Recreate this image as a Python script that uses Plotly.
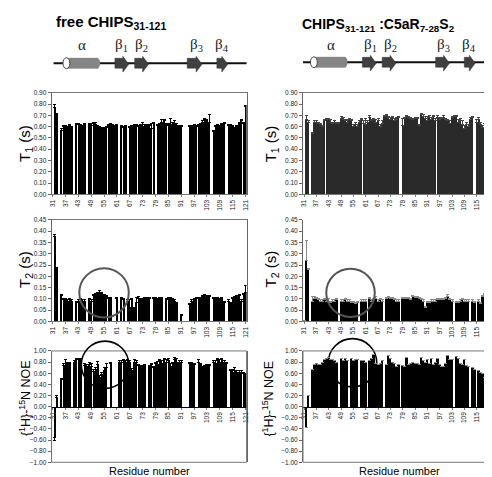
import plotly.graph_objects as go

W, H = 492, 477

residues = list(range(31, 122))
tick_residues = [31, 37, 43, 49, 55, 61, 67, 73, 79, 85, 91, 97, 103, 109, 115, 121]
tick_labels = [str(r) for r in tick_residues]

# ---------------- free CHIPS31-121 ----------------
free_T1 = [
    None, 0.77, 0.71, None, 0.57, 0.60, 0.60, 0.59, 0.61, 0.59,
    None, 0.62, 0.62, 0.61, 0.60, 0.62, None, 0.62, 0.61, 0.63,
    0.62, 0.60, 0.58, 0.58, 0.58, 0.59, 0.61, 0.62, 0.61, 0.60,
    0.61, None, 0.60, 0.59, 0.60, None, 0.59, 0.60, 0.61, 0.61,
    0.60, 0.61, 0.60, 0.60, 0.61, 0.61, 0.58, 0.63, None, 0.61,
    0.62, 0.64, 0.65, 0.62, 0.61, 0.62, 0.62, 0.63, 0.61, 0.60,
    0.60, None, None, None, 0.60, 0.60, 0.61, 0.60, 0.61, 0.62,
    0.64, 0.66, 0.65, 0.64, None, 0.56, 0.60, 0.61, 0.60, 0.62,
    0.63, None, 0.61, 0.61, 0.60, 0.58, 0.60, 0.63, 0.65, 0.63,
    0.78]
free_T1_err = [
    0, 0.03, 0.01, 0, 0.01, 0.01, 0.01, 0.01, 0.01, 0.01,
    0, 0.01, 0.01, 0.01, 0.01, 0.01, 0, 0.01, 0.02, 0.01,
    0.02, 0.01, 0.02, 0.01, 0.01, 0.01, 0.01, 0.01, 0.01, 0.01,
    0.01, 0, 0.01, 0.01, 0.01, 0, 0.01, 0.01, 0.01, 0.01,
    0.01, 0.01, 0.04, 0.02, 0.01, 0.01, 0.05, 0.01, 0, 0.01,
    0.01, 0.02, 0.01, 0.01, 0.02, 0.05, 0.02, 0.02, 0.02, 0.01,
    0.01, 0, 0, 0, 0.01, 0.01, 0.01, 0.01, 0.01, 0.01,
    0.01, 0.01, 0.01, 0.07, 0, 0.01, 0.01, 0.01, 0.01, 0.01,
    0.01, 0, 0.01, 0.01, 0.01, 0.01, 0.01, 0.01, 0.01, 0.01,
    0.01]

free_T2 = [
    None, 0.375, 0.235, None, 0.115, 0.095, 0.095, 0.09, 0.095, 0.09,
    None, 0.085, 0.09, 0.095, 0.09, 0.09, None, 0.095, 0.09, 0.115,
    0.12, 0.125, 0.13, 0.125, 0.115, 0.11, 0.10, 0.10, None, None,
    0.10, None, 0.10, 0.095, None, 0.09, 0.06, 0.095, 0.055, 0.085,
    0.10, 0.095, 0.095, 0.10, 0.10, 0.10, None, 0.10, 0.10, 0.095,
    0.10, 0.10, None, 0.095, 0.10, 0.10, 0.095, 0.09, 0.08, None,
    0.025, None, None, None, 0.075, 0.09, 0.095, 0.10, 0.10, 0.10,
    0.11, 0.115, 0.11, 0.11, None, 0.10, 0.10, 0.10, 0.095, 0.10,
    0.085, None, 0.09, 0.08, 0.10, 0.105, 0.11, 0.115, 0.09, 0.12,
    0.13]
free_T2_err = [
    0, 0.01, 0.005, 0, 0.005, 0.005, 0.005, 0.005, 0.005, 0.005,
    0, 0.005, 0.005, 0.005, 0.005, 0.005, 0, 0.005, 0.005, 0.005,
    0.005, 0.005, 0.005, 0.005, 0.005, 0.005, 0.005, 0.005, 0, 0,
    0.005, 0, 0.005, 0.005, 0, 0.005, 0.035, 0.005, 0.005, 0.02,
    0.01, 0.005, 0.005, 0.005, 0.005, 0.005, 0, 0.005, 0.005, 0.005,
    0.005, 0.005, 0, 0.005, 0.005, 0.005, 0.005, 0.005, 0.005, 0,
    0.005, 0, 0, 0, 0.005, 0.005, 0.005, 0.005, 0.005, 0.005,
    0.005, 0.005, 0.005, 0.005, 0, 0.005, 0.005, 0.005, 0.005, 0.005,
    0.005, 0, 0.005, 0.005, 0.005, 0.005, 0.005, 0.005, 0.005, 0.005,
    0.03]

free_NOE = [
    None, -0.55, 0.17, None, 0.49, 0.73, 0.78, 0.78, 0.78, None,
    0.80, 0.84, 0.85, 0.82, None, 0.74, 0.72, 0.75, 0.72, 0.63,
    0.66, 0.75, 0.52, 0.58, 0.65, 0.70, None, 0.78, None, None,
    None, 0.80, 0.80, 0.82, 0.80, 0.82, 0.80, 0.64, 0.80, 0.80,
    0.73, 0.72, 0.72, 0.74, None, 0.72, 0.76, 0.70, 0.78, 0.75,
    0.82, 0.78, 0.85, 0.80, 0.82, 0.72, 0.78, 0.85, 0.80, 0.80,
    0.80, None, None, None, 0.78, 0.77, 0.76, None, 0.80, 0.76,
    0.70, 0.72, 0.74, 0.74, None, 0.80, 0.78, 0.84, 0.80, 0.84,
    0.80, 0.78, None, 0.65, 0.62, 0.64, 0.62, 0.62, 0.60, 0.60,
    0.57]
free_NOE_err = [
    0, 0.05, 0.03, 0, 0.02, 0.04, 0.06, 0.02, 0.02, 0,
    0.02, 0.02, 0.02, 0.04, 0, 0.04, 0.04, 0.05, 0.06, 0.04,
    0.04, 0.06, 0.04, 0.04, 0.06, 0.08, 0, 0.02, 0, 0,
    0, 0.02, 0.02, 0.02, 0.02, 0.02, 0.02, 0.04, 0.04, 0.02,
    0.02, 0.02, 0.02, 0.02, 0, 0.02, 0.02, 0.02, 0.02, 0.06,
    0.02, 0.04, 0.02, 0.04, 0.04, 0.06, 0.02, 0.04, 0.06, 0.02,
    0.02, 0, 0, 0, 0.02, 0.02, 0.02, 0, 0.04, 0.02,
    0.02, 0.02, 0.02, 0.02, 0, 0.02, 0.04, 0.02, 0.04, 0.02,
    0.02, 0.02, 0, 0.02, 0.04, 0.06, 0.02, 0.02, 0.04, 0.02,
    0.02]

# ---------------- CHIPS31-121 : C5aR7-28S2 ----------------
cplx_T1 = [
    None, 0.66, 0.64, None, 0.54, 0.64, 0.64, 0.63, 0.62, 0.60,
    0.65, 0.66, 0.66, 0.64, 0.63, 0.64, 0.63, 0.63, 0.67, 0.66,
    0.65, 0.64, 0.66, 0.65, 0.60, 0.62, 0.60, 0.64, 0.66, 0.63,
    0.62, 0.64, 0.68, 0.65, 0.66, 0.64, 0.65, 0.60, 0.63, 0.69,
    0.70, 0.68, 0.66, 0.68, 0.65, 0.66, 0.68, None, 0.61, 0.67,
    0.69, 0.68, 0.67, 0.66, 0.67, 0.67, 0.61, 0.71, 0.69, 0.67,
    0.65, 0.68, 0.66, 0.69, 0.65, 0.68, 0.66, 0.67, 0.68, 0.66,
    0.65, 0.63, 0.68, 0.69, 0.69, 0.64, 0.65, 0.62, 0.58, 0.62,
    0.60, 0.66, 0.68, None, 0.64, 0.66, 0.62, 0.59, 0.61, 0.69,
    0.77]
cplx_T1_err = [
    0, 0.04, 0.01, 0, 0.01, 0.01, 0.01, 0.01, 0.01, 0.01,
    0.01, 0.01, 0.01, 0.02, 0.01, 0.01, 0.01, 0.01, 0.02, 0.02,
    0.01, 0.02, 0.01, 0.01, 0.02, 0.02, 0.02, 0.01, 0.01, 0.02,
    0.05, 0.01, 0.02, 0.01, 0.01, 0.02, 0.02, 0.02, 0.02, 0.01,
    0.01, 0.01, 0.02, 0.01, 0.02, 0.02, 0.01, 0, 0.06, 0.01,
    0.01, 0.01, 0.01, 0.01, 0.01, 0.01, 0.01, 0.01, 0.02, 0.02,
    0.04, 0.02, 0.02, 0.01, 0.02, 0.02, 0.02, 0.01, 0.02, 0.01,
    0.01, 0.02, 0.01, 0.01, 0.01, 0.02, 0.02, 0.03, 0.03, 0.02,
    0.02, 0.02, 0.01, 0, 0.02, 0.02, 0.02, 0.02, 0.02, 0.01,
    0.01]

cplx_T2 = [
    0.004, 0.27, 0.23, None, 0.09, 0.10, 0.10, 0.095, 0.09, 0.09,
    0.095, 0.09, 0.09, 0.085, 0.09, 0.09, 0.095, None, 0.09, 0.09,
    0.095, 0.09, 0.09, 0.085, 0.085, 0.08, 0.085, None, 0.09, 0.09,
    0.09, None, 0.10, 0.09, 0.095, 0.10, 0.09, 0.095, 0.09, None,
    0.10, 0.105, 0.10, 0.10, 0.095, 0.09, 0.09, None, 0.10, 0.10,
    0.10, 0.10, 0.095, 0.11, 0.105, 0.105, 0.10, 0.095, 0.09, 0.06,
    0.085, 0.085, 0.09, 0.09, 0.09, 0.095, 0.095, 0.095, 0.095, 0.10,
    0.11, 0.095, 0.09, None, 0.085, 0.085, 0.09, 0.095, 0.09, 0.09,
    0.09, None, 0.09, 0.085, None, 0.09, 0.08, 0.11, 0.12, 0.13,
    0.34]
cplx_T2_err = [
    0, 0.09, 0.005, 0, 0.02, 0.01, 0.005, 0.005, 0.005, 0.005,
    0.005, 0.005, 0.01, 0.005, 0.005, 0.005, 0.005, 0, 0.005, 0.005,
    0.005, 0.005, 0.005, 0.005, 0.005, 0.005, 0.005, 0, 0.005, 0.005,
    0.005, 0, 0.005, 0.005, 0.005, 0.01, 0.005, 0.005, 0.005, 0,
    0.005, 0.005, 0.005, 0.005, 0.005, 0.005, 0.005, 0, 0.005, 0.005,
    0.005, 0.005, 0.005, 0.005, 0.005, 0.005, 0.005, 0.005, 0.005, 0.005,
    0.005, 0.005, 0.005, 0.005, 0.005, 0.005, 0.005, 0.005, 0.005, 0.005,
    0.01, 0.005, 0.005, 0, 0.005, 0.005, 0.005, 0.005, 0.005, 0.005,
    0.005, 0, 0.005, 0.005, 0, 0.005, 0.005, 0.005, 0.005, 0.005,
    0.01]

cplx_NOE = [
    None, -0.37, 0.20, None, 0.67, 0.75, 0.78, 0.76, 0.76, 0.80,
    0.84, 0.86, 0.88, 0.84, 0.84, 0.83, 0.80, None, 0.86, 0.82,
    0.87, 0.82, None, 0.86, 0.83, 0.84, 0.84, None, 0.83, 0.82,
    0.80, None, 0.82, 0.86, 0.93, 0.77, 0.76, 0.78, 0.82, None,
    0.76, 0.92, 0.86, 0.80, 0.78, 0.72, 0.76, None, 0.74, 0.72,
    0.88, 0.76, 0.78, 0.80, 0.78, 0.78, 0.76, 0.88, 0.82, 0.80,
    0.84, 0.78, 0.86, 0.76, 0.80, 0.86, 0.76, 0.72, 0.72, 0.78,
    0.92, 0.84, 0.84, None, 0.90, 0.86, 0.78, 0.76, 0.84, 0.74,
    0.72, None, 0.70, 0.66, None, 0.64, 0.62, 0.60, 0.52, 0.48,
    0.30]
cplx_NOE_err = [0.0] * 91

# ---------------- layout helpers ----------------
FONT = "Liberation Sans, Arial, sans-serif"
SERIF = "Liberation Serif, Times New Roman, serif"


def px(x):
    return x / W


def py(y):
    return 1 - y / H


XL = [px(41), px(238)]
XR = [px(295), px(484)]
Y_T1 = [py(185), py(82)]
Y_T2 = [py(314), py(211)]
Y_NOE = [py(457), py(344)]

fig = go.Figure()


def add_bars(vals, errs, n, color, width, errcolor):
    plus = [e if (v is not None and v >= 0) else 0 for v, e in zip(vals, errs)]
    minus = [e if (v is not None and v < 0) else 0 for v, e in zip(vals, errs)]
    fig.add_trace(go.Bar(
        x=residues, y=vals, width=width,
        marker=dict(color=color, line=dict(width=0)),
        error_y=dict(type="data", symmetric=False, array=plus, arrayminus=minus,
                     color=errcolor, thickness=1, width=1.5),
        xaxis="x" + ("" if n == 1 else str(n)),
        yaxis="y" + ("" if n == 1 else str(n)),
        showlegend=False, hoverinfo="skip"))


add_bars(free_T1, free_T1_err, 1, "#000000", 0.72, "#000000")
add_bars(cplx_T1, cplx_T1_err, 2, "#2a2a2a", 0.62, "#444444")
add_bars(free_T2, free_T2_err, 3, "#000000", 0.72, "#000000")
add_bars(cplx_T2, cplx_T2_err, 4, "#000000", 0.92, "#888888")
add_bars(free_NOE, free_NOE_err, 5, "#000000", 0.72, "#000000")
add_bars(cplx_NOE, cplx_NOE_err, 6, "#000000", 0.92, "#888888")

tickfont = dict(size=6.5, family=FONT, color="#222")


def xaxis(domain, anchor, mirror=True, free_pos=None):
    d = dict(domain=domain, range=[30.5, 121.5], tickmode="array",
             tickvals=tick_residues, ticktext=tick_labels, tickangle=-90,
             tickfont=tickfont, showline=True, linecolor="#777", linewidth=1,
             mirror=mirror, ticks="outside", ticklen=2, tickcolor="#777",
             showgrid=False, zeroline=False)
    if free_pos is None:
        d["anchor"] = anchor
    else:
        d["anchor"] = "free"
        d["position"] = free_pos
        d["mirror"] = False
        d["linecolor"] = "#000"
    return d


def yaxis(domain, anchor, rng, dtick, mirror=True):
    return dict(domain=domain, anchor=anchor, range=rng, dtick=dtick,
                tickformat=".2f", tickfont=tickfont, showline=True,
                linecolor="#666", linewidth=1, mirror=mirror, ticks="outside",
                ticklen=3, tickcolor="#666", showgrid=False, zeroline=False)


zero_pos = (Y_NOE[0] + Y_NOE[1]) / 2

fig.update_layout(
    width=W, height=H, autosize=False,
    margin=dict(l=0, r=0, t=0, b=0),
    paper_bgcolor="white", plot_bgcolor="white",
    bargap=0,
    font=dict(family=FONT, color="#000"),
    xaxis=xaxis(XL, "y"), yaxis=yaxis(Y_T1, "x", [0, 0.9], 0.1),
    xaxis2=xaxis(XR, "y2"), yaxis2=yaxis(Y_T1, "x2", [0, 0.9], 0.1),
    xaxis3=xaxis(XL, "y3"), yaxis3=yaxis(Y_T2, "x3", [0, 0.45], 0.05),
    xaxis4=xaxis(XR, "y4", mirror=False), yaxis4=yaxis(Y_T2, "x4", [0, 0.45], 0.05),
    xaxis5=xaxis(XL, "y5", free_pos=zero_pos), yaxis5=yaxis(Y_NOE, "x5", [-1, 1], 0.2),
    xaxis6=xaxis(XR, "y6", free_pos=zero_pos), yaxis6=yaxis(Y_NOE, "x6", [-1, 1], 0.2),
)

shapes = []
# frames for NOE panels
for n in (5, 6):
    shapes.append(dict(type="rect", xref=f"x{n} domain", yref=f"y{n} domain",
                       x0=0, x1=1, y0=0, y1=1, line=dict(color="#777", width=1)))


def circle(cx, cy, r, color, width, layer="above"):
    shapes.append(dict(type="circle", xref="paper", yref="paper",
                       x0=px(cx - r), x1=px(cx + r), y0=py(cy + r), y1=py(cy - r),
                       line=dict(color=color, width=width), layer=layer))


circle(94, 285, 25, "#555555", 2)
circle(343, 285, 24.5, "#555555", 2)
circle(95, 358, 24, "#000000", 1.6)
circle(345, 356, 24.5, "#000000", 1.6, layer="below")


def topology(x0, x1, yc, hx0, hx1, strands):
    shapes.append(dict(type="line", xref="paper", yref="paper",
                       x0=px(x0), x1=px(x1), y0=py(yc), y1=py(yc),
                       line=dict(color="#111", width=2)))
    shapes.append(dict(type="rect", xref="paper", yref="paper",
                       x0=px(hx0), x1=px(hx1 - 3), y0=py(yc + 5.5), y1=py(yc - 5.5),
                       fillcolor="#858585", line=dict(width=0)))
    shapes.append(dict(type="circle", xref="paper", yref="paper",
                       x0=px(hx1 - 6), x1=px(hx1), y0=py(yc + 5.5), y1=py(yc - 5.5),
                       fillcolor="#858585", line=dict(width=0)))
    shapes.append(dict(type="circle", xref="paper", yref="paper",
                       x0=px(hx0 - 3.5), x1=px(hx0 + 3.5), y0=py(yc + 5.5), y1=py(yc - 5.5),
                       fillcolor="white", line=dict(color="#444", width=1)))
    for a, b in strands:
        hb = b - 6
        pts = [(a, yc - 5), (hb, yc - 5), (hb, yc - 7), (b, yc + 1), (hb, yc + 9),
               (hb, yc + 5), (a, yc + 5)]
        path = "M " + " L ".join(f"{px(x):.5f},{py(y):.5f}" for x, y in pts) + " Z"
        shapes.append(dict(type="path", xref="paper", yref="paper", path=path,
                           fillcolor="#404040", line=dict(color="#303030", width=0.5)))


topology(43, 238, 52, 56, 90, [(105, 119), (125, 139), (178, 193), (208, 219)])
topology(295, 486, 51, 306, 340, [(355, 369), (375, 389), (429, 443), (458, 469)])

fig.update_layout(shapes=shapes)

ann = []


def text(x, y, s, size, family=FONT, angle=0, xanchor="center", color="#000"):
    ann.append(dict(x=px(x), y=py(y), xref="paper", yref="paper", text=s,
                    showarrow=False, textangle=angle, xanchor=xanchor,
                    yanchor="middle", font=dict(size=size, family=family, color=color)))


text(43, 11, "<b>free CHIPS<sub>31-121</sub></b>", 15, xanchor="left")
text(292, 13, "<b>CHIPS<sub>31-121</sub> :C5aR<sub>7-28</sub>S<sub>2</sub></b>", 14, xanchor="left")

for lbl, x in [("α", 72), ("β<sub>1</sub>", 112), ("β<sub>2</sub>", 132),
               ("β<sub>3</sub>", 187), ("β<sub>4</sub>", 213),
               ("α", 323), ("β<sub>1</sub>", 363), ("β<sub>2</sub>", 383),
               ("β<sub>3</sub>", 437), ("β<sub>4</sub>", 463)]:
    text(x, 33, lbl, 15, family=SERIF, color="#222")

text(14, 133, "T<sub>1</sub> (s)", 15, angle=-90)
text(263, 134, "T<sub>1</sub> (s)", 15, angle=-90)
text(14, 261, "T<sub>2</sub> (s)", 15, angle=-90)
text(263, 261, "T<sub>2</sub> (s)", 15, angle=-90)
text(14, 392, "{<sup>1</sup>H}-<sup>15</sup>N NOE", 12.5, angle=-90)
text(260, 392, "{<sup>1</sup>H}-<sup>15</sup>N NOE", 12.5, angle=-90)
text(140, 466, "Residue number", 11)
text(392, 466, "Residue number", 11)

fig.update_layout(annotations=ann)

fig.write_html("out.html")
